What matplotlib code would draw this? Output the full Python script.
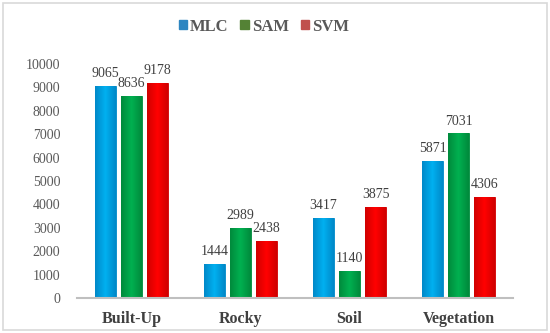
import matplotlib.pyplot as plt
import numpy as np
from matplotlib.colors import LinearSegmentedColormap
from matplotlib.patches import Rectangle

categories = ["Built-Up", "Rocky", "Soil", "Vegetation"]
series = ["MLC", "SAM", "SVM"]
mlc = [9065, 1444, 3417, 5871]
sam = [8636, 2989, 1140, 7031]
svm = [9178, 2438, 3875, 4306]

bar_colors = ["#00b0f0", "#00b050", "#ff0000"]
edge_colors = ["#0088c8", "#008a3c", "#d00000"]
legend_colors = ["#2e86c1", "#548235", "#c0504d"]

fig = plt.figure(figsize=(5.5, 3.33), dpi=100)
fig.patches.append(Rectangle((0.006, 0.01), 0.988, 0.98, transform=fig.transFigure,
                             fill=False, edgecolor="#d9d9d9", linewidth=1.2))
ax = fig.add_axes([0.14, 0.105, 0.793, 0.703])

x = np.arange(len(categories))
width = 0.19
step = 0.24
grad = np.abs(np.linspace(-1, 1, 64))[None, :]

for i, (name, vals) in enumerate(zip(series, [mlc, sam, svm])):
    bars = ax.bar(x + (i - 1) * step, vals, width, color=bar_colors[i],
                  edgecolor=edge_colors[i], linewidth=0.6, label=name, zorder=2)
    cmap = LinearSegmentedColormap.from_list(name, [bar_colors[i], edge_colors[i]])
    for b, v in zip(bars, vals):
        im = ax.imshow(grad, cmap=cmap, aspect="auto", zorder=2.5,
                       extent=[b.get_x(), b.get_x() + b.get_width(), 0, v])
        im.set_clip_path(b)
        ax.text(b.get_x() + b.get_width() / 2, v + 250, str(v), ha="center",
                va="bottom", fontsize=10, color="#404040", family="Liberation Serif")

ax.set_xlim(-0.5, 3.5)
ax.set_ylim(0, 10000)
ax.set_yticks(np.arange(0, 10001, 1000))
ax.set_xticks(x)
ax.set_xticklabels(categories, fontsize=11.5, fontweight="bold", color="#404040",
                   family="Liberation Serif")
for lab in ax.get_yticklabels():
    lab.set_family("Liberation Serif")
    lab.set_fontsize(10)
    lab.set_color("#595959")
ax.tick_params(length=0)
ax.tick_params(axis="x", pad=9)
ax.tick_params(axis="y", pad=12)
for s in ["top", "right", "left"]:
    ax.spines[s].set_visible(False)
ax.spines["bottom"].set_color("#bfbfbf")
ax.spines["bottom"].set_linewidth(1.5)

handles = [Rectangle((0, 0), 1, 1, color=c) for c in legend_colors]
fig.legend(handles, series, loc="center", bbox_to_anchor=(0.48, 0.92), ncol=3,
           frameon=False, handlelength=0.5, handleheight=0.5, handletextpad=0.2,
           columnspacing=0.7, prop={"family": "Liberation Serif", "weight": "bold",
                                    "size": 12}, labelcolor="#595959")

fig.savefig("out.png", dpi=100)
